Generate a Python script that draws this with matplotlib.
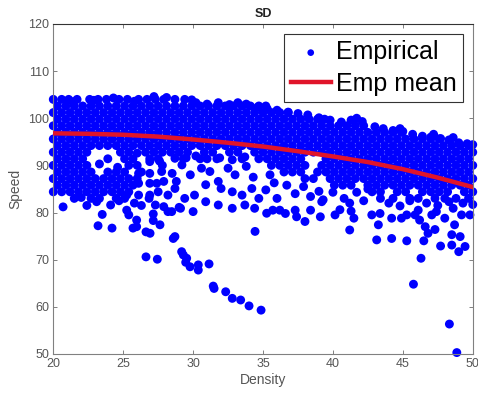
import matplotlib
matplotlib.use("Agg")
import matplotlib.pyplot as plt

plt.rcParams['font.family'] = ['Liberation Sans', 'DejaVu Sans']

# ---- dense band rows: speed level -> density values ----
band_rows = {
    104.0: [20.0, 20.6, 21.1, 21.7, 22.6, 23.2, 23.8, 24.7, 25.3, 26.1, 26.7, 27.3, 27.9, 28.7, 29.4],
    102.6: [20.3, 20.9, 21.5, 22.1, 22.7, 23.3, 23.9, 24.5, 25.1, 25.7, 26.3, 26.9, 27.5, 28.1, 28.7,
            29.3, 29.9, 30.5, 31.1, 31.7, 32.3, 32.9, 33.5, 34.1, 34.7, 35.2],
    101.2: [20.0, 20.6, 21.2, 21.8, 22.4, 23.0, 23.6, 24.2, 24.8, 25.4, 26.0, 26.6, 27.2, 27.8, 28.4,
            29.0, 29.6, 30.2, 30.8, 31.4, 32.0, 32.6, 33.2, 33.8, 34.4, 35.0, 35.6, 36.2, 36.8],
    99.8: [20.3, 20.9, 21.5, 22.1, 22.7, 23.3, 23.9, 24.5, 25.1, 25.7, 26.3, 26.9, 27.5, 28.1, 28.7,
           29.3, 29.9, 30.5, 31.1, 31.7, 32.3, 32.9, 33.5, 34.1, 34.7, 35.3, 35.9, 36.5, 37.1, 37.7,
           38.3, 38.9, 39.4],
    98.4: [20.0, 20.6, 21.2, 21.8, 22.4, 23.0, 23.6, 24.2, 24.8, 25.4, 26.0, 26.6, 27.2, 27.8, 28.4,
           29.0, 29.6, 30.2, 30.8, 31.4, 32.0, 32.6, 33.2, 33.8, 34.4, 35.0, 35.6, 36.2, 36.8, 37.4,
           38.0, 38.6, 39.2, 39.8, 40.4, 41.0, 41.6, 42.2],
    97.0: [20.3, 20.9, 21.5, 22.1, 22.7, 23.3, 23.9, 24.5, 25.1, 25.7, 26.3, 26.9, 27.5, 28.1, 28.7,
           29.3, 29.9, 30.5, 31.1, 31.7, 32.3, 32.9, 33.5, 34.1, 34.7, 35.3, 35.9, 36.5, 37.1, 37.7,
           38.3, 38.9, 39.5, 40.1, 40.7, 41.3, 41.9, 42.5, 43.1, 43.7, 44.3, 44.9],
    95.6: [20.0, 20.6, 21.2, 21.8, 22.4, 23.0, 23.6, 24.2, 24.8, 25.4, 26.0, 26.6, 27.2, 27.8, 28.4,
           29.0, 29.6, 30.2, 30.8, 31.4, 32.0, 32.6, 33.2, 33.8, 34.4, 35.0, 35.6, 36.2, 36.8, 37.4,
           38.0, 38.6, 39.2, 39.8, 40.4, 41.0, 41.6, 42.2, 42.8, 43.4, 44.0, 44.6, 45.2, 45.8, 46.4,
           47.0, 47.6],
    94.2: [20.3, 20.9, 21.5, 22.1, 22.7, 23.3, 23.9, 24.5, 25.1, 25.7, 26.3, 26.9, 27.5, 28.1, 28.7,
           29.3, 29.9, 30.5, 31.1, 31.7, 32.3, 32.9, 33.5, 34.1, 34.7, 35.3, 35.9, 36.5, 37.1, 37.7,
           38.3, 38.9, 39.5, 40.1, 40.7, 41.3, 41.9, 42.5, 43.1, 43.7, 44.3, 44.9, 45.5, 46.1, 46.7,
           47.3, 47.9, 48.5, 49.1, 49.7],
    92.8: [20.0, 20.6, 21.2, 21.8, 22.4, 24.8, 25.4, 26.6, 27.2, 27.8, 28.4, 29.0, 29.6, 30.8, 31.4,
           32.6, 33.2, 34.4, 35.0, 35.6, 36.2, 36.8, 37.4, 38.0, 38.6, 39.2, 39.8, 40.4, 41.0, 41.6,
           42.2, 42.8, 43.4, 44.0, 44.6, 45.2, 45.8, 46.4, 47.0, 47.6, 48.2, 48.8, 49.4, 50.0],
    91.4: [20.3, 20.9, 21.5, 22.1, 23.9, 25.1, 25.7, 26.9, 27.5, 29.3, 30.5, 31.7, 33.5, 34.7, 35.3,
           35.9, 36.5, 37.1, 37.7, 39.5, 40.1, 40.7, 41.3, 41.9, 42.5, 43.1, 43.7, 44.3, 44.9, 45.5,
           46.1, 46.7, 47.3, 47.9, 48.5, 49.1, 49.7],
    90.0: [20.0, 20.6, 21.2, 21.8, 22.4, 25.4, 26.0, 27.8, 35.6, 36.2, 36.8, 37.4, 38.0, 39.2, 39.8,
           40.4, 41.0, 41.6, 42.2, 42.8, 43.4, 44.0, 44.6, 45.2, 45.8, 46.4, 47.0, 47.6, 48.2, 48.8,
           49.4, 50.0],
    88.6: [20.3, 20.9, 21.5, 22.1, 22.7, 23.9, 24.5, 25.1, 26.3, 36.5, 37.1, 37.7, 38.9, 39.5, 40.1,
           40.7, 41.3, 41.9, 42.5, 43.1, 43.7, 44.3, 44.9, 45.5, 46.1, 46.7, 47.3, 47.9, 48.5, 49.1,
           49.7],
    87.2: [20.0, 20.6, 21.2, 21.8, 22.4, 23.0, 23.6, 24.2, 24.8, 25.4, 26.0, 38.0, 38.6, 39.8, 40.4,
           41.0, 41.6, 42.2, 42.8, 43.4, 44.0, 44.6, 45.2, 45.8, 46.4, 47.0, 47.6, 48.2, 48.8, 49.4,
           50.0],
    85.8: [20.3, 20.9, 21.5, 22.1, 22.7, 23.3, 23.9, 24.5, 25.1, 25.7, 40.1, 40.7, 41.3, 42.5, 43.1,
           43.7, 44.3, 44.9, 45.5, 46.1, 46.7, 47.3, 47.9, 48.5, 49.1, 49.7],
    84.4: [20.0, 20.6, 21.2, 21.8, 22.4, 23.0, 23.6, 24.2, 24.8, 25.4, 42.8, 43.4, 44.6, 45.2, 46.4,
           47.0, 47.6, 48.2, 49.4, 50.0],
    83.0: [21.5, 22.7, 23.3, 24.5, 25.1, 43.4, 44.3, 45.5, 46.1, 47.3, 48.0, 48.8, 49.7],
}

# ---- individual points (density, speed) ----
top_edge = [(27.2, 104.6), (28.1, 104.4), (30.2, 103.3), (31.0, 103.0), (31.8, 103.3), (32.6, 102.9),
            (33.2, 103.3), (33.8, 103.0), (35.3, 102.0), (36.0, 101.7), (36.8, 101.3), (37.5, 101.0),
            (38.2, 100.7), (39.0, 100.1), (39.8, 99.6), (40.6, 99.2), (41.3, 99.6), (42.1, 99.3),
            (43.0, 98.2), (43.6, 97.8), (44.3, 97.4), (45.0, 97.2), (45.7, 96.6), (46.4, 96.2),
            (47.0, 96.0), (47.7, 95.7), (48.3, 95.4), (49.0, 94.8), (49.6, 94.6), (50.0, 94.4),
            (21.4, 103.5), (22.9, 103.8), (24.3, 104.3), (25.8, 103.6), (29.9, 103.9), (34.6, 102.3),
            (41.7, 100.0), (44.8, 97.8), (47.2, 96.6), (48.6, 95.9)]

mid_scatter = [(27.6, 90.9), (28.7, 91.5), (29.5, 91.6), (30.2, 92.0), (31.0, 91.4), (31.9, 91.6),
               (32.8, 91.2), (33.7, 91.8), (27.75, 88.7), (27.9, 86.6), (28.5, 88.3), (28.8, 86.6),
               (29.2, 90.1), (29.8, 88.0), (30.6, 89.4), (31.2, 88.7), (31.8, 86.6), (32.5, 89.4),
               (33.0, 88.0), (33.8, 89.8), (34.3, 87.5), (27.5, 84.4), (28.2, 83.7), (28.7, 85.1),
               (29.4, 83.0), (30.1, 83.7), (30.9, 85.9), (32.0, 85.1), (32.8, 84.4), (33.5, 83.7),
               (34.2, 85.1), (34.7, 83.0), (28.2, 80.2), (29.1, 80.9), (30.0, 80.2), (30.9, 82.3),
               (31.8, 81.6), (32.8, 80.9), (33.7, 81.6), (34.4, 80.9),
               (26.0, 92.6), (26.9, 90.8), (26.1, 88.3), (26.9, 88.3), (26.1, 86.2), (26.9, 86.2),
               (25.25, 83.7), (26.1, 83.7), (26.9, 83.7), (27.4, 86.2), (23.3, 90.3), (24.6, 89.6)]

left_scatter = [(20.7, 81.2), (22.4, 81.5), (23.1, 82.3), (23.5, 79.6), (23.2, 77.2), (24.2, 76.7),
                (24.1, 81.6), (25.25, 80.5), (25.4, 79.5), (25.96, 78.4), (25.96, 77.0), (25.7, 76.7),
                (26.63, 75.9), (26.92, 75.6), (26.63, 70.6), (27.44, 70.1), (26.85, 83.0), (27.15, 79.7),
                (27.15, 78.3), (27.63, 77.4), (27.3, 81.6), (27.9, 81.25), (28.47, 80.2), (29.0, 81.1),
                (22.0, 83.2), (24.7, 82.5), (25.8, 82.0), (26.3, 81.5)]

low_tail = [(28.58, 74.5), (28.7, 74.9), (29.18, 71.7), (29.3, 71.0), (29.54, 70.3), (29.47, 69.45),
            (29.78, 68.5), (30.37, 68.9), (30.37, 67.8), (31.14, 69.1), (31.44, 64.4), (31.5, 63.9),
            (32.33, 63.2), (32.8, 61.8), (33.4, 61.45), (34.0, 60.2), (34.86, 59.3), (34.43, 76.0)]

right_scatter = [(35.26, 79.85), (35.7, 80.5), (36.2, 80.5), (36.6, 79.8), (37.3, 80.5), (37.4, 79.1),
                 (38.0, 78.1), (38.4, 80.5), (39.1, 79.1), (39.2, 82.3), (40.15, 79.5), (40.5, 80.6),
                 (41.2, 82.0), (41.3, 80.3), (41.5, 78.8), (41.2, 76.3), (42.78, 79.5), (43.37, 79.8),
                 (43.25, 77.4), (44.2, 78.8), (44.9, 78.8), (45.28, 79.5), (45.87, 79.5), (46.1, 80.5),
                 (46.2, 78.4), (46.6, 77.0), (47.07, 79.5), (47.4, 80.2), (48.0, 78.8), (48.6, 80.9),
                 (48.7, 77.4), (49.2, 79.5), (46.8, 75.6), (47.3, 76.4),
                 (35.2, 84.8), (35.8, 86.3), (36.7, 85.8), (37.3, 84.0), (37.9, 85.5), (38.4, 83.4),
                 (39.0, 84.5), (39.3, 82.7), (35.5, 88.0), (36.0, 83.0), (40.0, 84.3), (40.8, 83.0),
                 (41.7, 84.3), (42.2, 82.5), (42.5, 85.0), (44.0, 82.0), (44.8, 81.4), (45.5, 82.5),
                 (46.7, 82.0), (47.5, 81.5), (48.3, 82.3), (49.3, 82.0), (50.0, 81.7),
                 (43.13, 74.2), (44.2, 74.5), (45.28, 74.0), (46.5, 74.0), (46.3, 70.3), (45.76, 64.8),
                 (47.7, 72.9), (48.5, 73.1), (49.0, 71.7), (49.45, 72.8), (48.5, 75.3), (49.1, 74.9),
                 (49.8, 79.5), (48.33, 56.35), (48.86, 50.3)]

mean_density = [20, 22.5, 25, 27.5, 30, 32.5, 35, 37.5, 40, 42.5, 45, 47.5, 50]
mean_speed = [96.8, 96.7, 96.5, 96.1, 95.5, 94.8, 94.0, 93.0, 91.9, 90.7, 89.2, 87.4, 85.4]

density = []
speed = []
for lvl, xs in band_rows.items():
    density += xs
    speed += [lvl] * len(xs)
for group in (top_edge, mid_scatter, left_scatter, low_tail, right_scatter):
    density += [p[0] for p in group]
    speed += [p[1] for p in group]

fig = plt.figure(figsize=(4.78, 3.99), dpi=100)
ax = fig.add_axes([0.1115, 0.1128, 0.8775, 0.8272])

ax.scatter(density, speed, s=41, color='#0000ff', edgecolors='none', clip_on=False,
           label='Empirical', zorder=2)
ax.plot(mean_density, mean_speed, color='#e0142a', lw=3.2, label='Emp mean', zorder=3)

ax.set_xlim(20, 50)
ax.set_ylim(50, 120)
ax.set_xticks([20, 25, 30, 35, 40, 45, 50])
ax.set_yticks([50, 60, 70, 80, 90, 100, 110, 120])

gray = '#555555'
for side in ('left', 'bottom', 'right'):
    ax.spines[side].set_color('#808080')
ax.spines['top'].set_color('#333333')
for sp in ax.spines.values():
    sp.set_linewidth(0.8)
ax.tick_params(direction='in', length=3, width=0.7, color='#808080', labelcolor=gray,
               labelsize=9, top=True, right=True, pad=3)

ax.set_xlabel('Density', fontsize=10, color=gray, labelpad=2)
ax.set_ylabel('Speed', fontsize=10, color=gray, labelpad=4)
ax.set_title('SD', fontsize=9, fontweight='bold', color='#222222', pad=5)

leg = ax.legend(loc='upper right', fontsize=18, frameon=True, fancybox=False,
                edgecolor='#333333', framealpha=1, borderaxespad=0.4, borderpad=0.25,
                handlelength=1.6, handletextpad=0.2, labelspacing=0.3, markerscale=0.75)
leg.get_frame().set_linewidth(0.8)

fig.savefig('out.png', dpi=100)
